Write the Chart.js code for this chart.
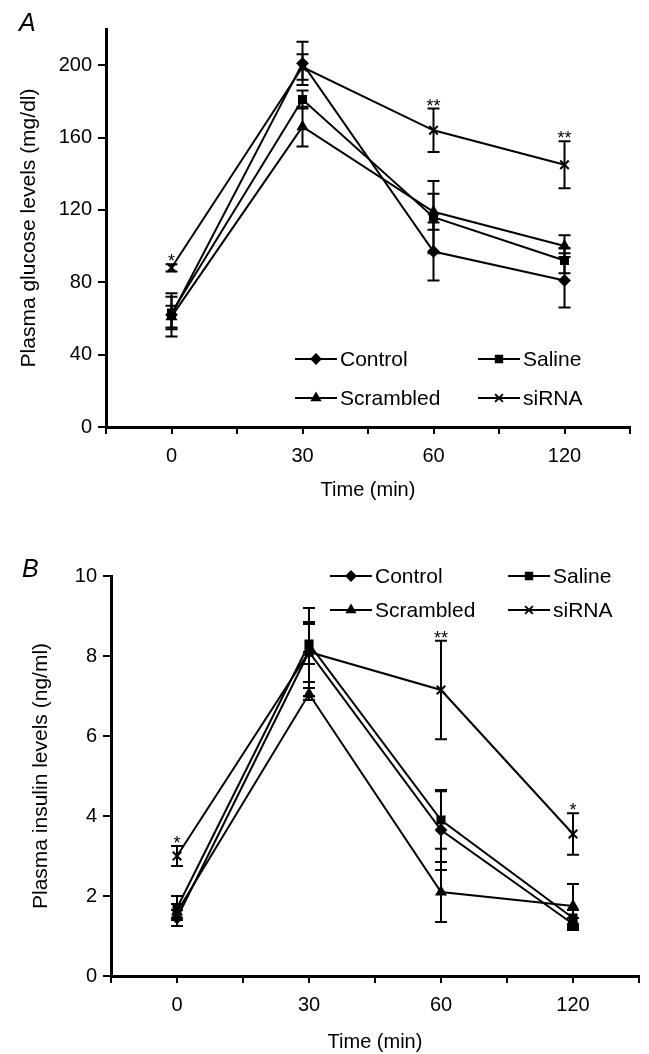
<!DOCTYPE html>
<html>
<head>
<meta charset="utf-8">
<script src="https://cdn.jsdelivr.net/npm/chart.js@4/dist/chart.umd.js"></script>
<style>
  body { margin: 0; background: #fff; }
  canvas { position: absolute; left: 0; }
</style>
</head>
<body>
<canvas id="glucose" width="649" height="502" style="top:0"></canvas>
<canvas id="insulin" width="649" height="554" style="top:500px"></canvas>
<script>
const timeLabels = ['0', '30', '60', '120'];
const seriesNames = ['Control', 'Saline', 'Scrambled', 'siRNA'];
const markers = ['rectRot', 'rect', 'triangle', 'crossRot'];

// panel A, plasma glucose (mg/dl)
const glucoseControl = [62, 201, 97, 81];
const glucoseSaline = [63, 181, 116, 92];
const glucoseScrambled = [61, 166, 119, 100];
const glucoseSiRNA = [88, 199, 164, 145];
const glucoseControlErr = [12, 12, 16, 15];
const glucoseSalineErr = [9, 5, 20, 7];
const glucoseScrambledErr = [6, 11, 10, 6];
const glucoseSiRNAErr = [2, 7, 12, 13];
const glucoseStars = ['*', '', '**', '**'];

// panel B, plasma insulin (ng/ml)
const insulinControl = [1.45, 8.1, 3.65, 1.3];
const insulinSaline = [1.7, 8.3, 3.9, 1.45];
const insulinScrambled = [1.6, 7.05, 2.1, 1.75];
const insulinSiRNA = [3.0, 8.1, 7.15, 3.55];
const insulinControlErr = [0.2, 0.75, 1.0, 0.15];
const insulinSalineErr = [0.3, 0.5, 0.72, 0.2];
const insulinScrambledErr = [0.2, 0.15, 0.75, 0.55];
const insulinSiRNAErr = [0.25, 1.1, 1.23, 0.52];
const insulinStars = ['*', '', '**', '*'];

const FONT = "'Liberation Sans', Arial, sans-serif";

const toPoints = vals => vals.map((v, i) => ({ x: i * 2, y: v }));

const makeDatasets = (values, errors) => values.map((vals, i) => ({
  label: seriesNames[i],
  data: toPoints(vals),
  errors: errors[i],
  borderColor: '#000',
  backgroundColor: '#000',
  borderWidth: 2,
  pointStyle: markers[i],
  pointRadius: markers[i] === 'crossRot' ? 6 : 5,
  pointBorderWidth: 2,
  tension: 0
}));

// error bars and significance stars
const errorBars = {
  id: 'errorBars',
  afterDatasetsDraw(chart, args, opts) {
    const ctx = chart.ctx, xs = chart.scales.x, ys = chart.scales.y;
    ctx.save();
    ctx.strokeStyle = '#000';
    ctx.lineWidth = 2;
    chart.data.datasets.forEach(ds => {
      ds.data.forEach((p, j) => {
        const e = ds.errors[j];
        const px = xs.getPixelForValue(p.x);
        const top = ys.getPixelForValue(p.y + e), bot = ys.getPixelForValue(p.y - e);
        ctx.beginPath();
        ctx.moveTo(px, top); ctx.lineTo(px, bot);
        ctx.moveTo(px - 6, top); ctx.lineTo(px + 6, top);
        ctx.moveTo(px - 6, bot); ctx.lineTo(px + 6, bot);
        ctx.stroke();
      });
    });
    const sig = chart.data.datasets[3];
    ctx.fillStyle = '#000';
    ctx.font = '18px ' + FONT;
    ctx.textAlign = 'center';
    ctx.textBaseline = 'alphabetic';
    opts.stars.forEach((s, j) => {
      if (!s) return;
      const p = sig.data[j];
      ctx.fillText(s, xs.getPixelForValue(p.x), ys.getPixelForValue(p.y + sig.errors[j]) + 3);
    });
    ctx.restore();
  }
};

// 2x2 legend and panel letter
const gridLegend = {
  id: 'gridLegend',
  afterDraw(chart, args, opts) {
    const ctx = chart.ctx;
    ctx.save();
    ctx.fillStyle = '#000';
    ctx.strokeStyle = '#000';
    ctx.font = 'italic 25px ' + FONT;
    ctx.textBaseline = 'alphabetic';
    ctx.fillText(opts.letter, opts.letterX, opts.letterY);
    ctx.font = '21px ' + FONT;
    ctx.textBaseline = 'middle';
    chart.data.datasets.forEach((ds, i) => {
      const x = opts.cols[i % 2], y = opts.rows[Math.floor(i / 2)];
      ctx.lineWidth = 2;
      ctx.beginPath();
      ctx.moveTo(x, y); ctx.lineTo(x + 42, y);
      ctx.stroke();
      Chart.helpers.drawPoint(ctx, {
        pointStyle: ds.pointStyle, radius: ds.pointStyle === 'crossRot' ? 5.5 : 4.5,
        borderWidth: 2, rotation: 0
      }, x + 21, y);
      ctx.fillText(ds.label, x + 45, y + 1);
    });
    ctx.restore();
  }
};

const makeChart = (id, datasets, cfg) => new Chart(document.getElementById(id), {
  type: 'line',
  data: { datasets },
  plugins: [errorBars, gridLegend],
  options: {
    responsive: false,
    animation: false,
    layout: { padding: { left: 0, right: cfg.right, top: cfg.top, bottom: 0 } },
    plugins: {
      legend: { display: false },
      tooltip: { enabled: false },
      errorBars: { stars: cfg.stars },
      gridLegend: cfg.legend
    },
    scales: {
      x: {
        type: 'linear',
        min: -1, max: 7,
        afterFit: s => { s.height = cfg.xHeight; },
        ticks: {
          stepSize: 1, autoSkip: false, padding: 10,
          color: '#000', font: { family: FONT, size: 20 },
          callback: v => (v >= 0 && v % 2 === 0) ? timeLabels[v / 2] : ''
        },
        grid: { drawOnChartArea: false, color: '#000', lineWidth: 2, tickLength: 7 },
        border: { color: '#000', width: 3 },
        title: {
          display: true, text: 'Time (min)', color: '#000',
          font: { family: FONT, size: 20 }, padding: { top: 0, bottom: 0 }
        }
      },
      y: {
        min: 0, max: cfg.yMax,
        afterFit: s => { s.width = cfg.yWidth; },
        afterBuildTicks: s => { s.ticks = s.ticks.filter(t => t.value % cfg.yStep === 0); },
        ticks: {
          stepSize: cfg.yStep, padding: 6,
          color: '#000', font: { family: FONT, size: 20 }
        },
        grid: { drawOnChartArea: false, color: '#000', lineWidth: 2, tickLength: 8 },
        border: { color: '#000', width: 3 },
        title: {
          display: true, text: cfg.yTitle, color: '#000',
          font: { family: FONT, size: 21 }, padding: { top: cfg.yTitlePad, bottom: 0 }
        }
      }
    }
  }
});

makeChart('glucose',
  makeDatasets([glucoseControl, glucoseSaline, glucoseScrambled, glucoseSiRNA],
    [glucoseControlErr, glucoseSalineErr, glucoseScrambledErr, glucoseSiRNAErr]),
  {
    right: 19, top: 29, xHeight: 75, yWidth: 106, yMax: 220, yStep: 40,
    yTitle: 'Plasma glucose levels (mg/dl)', yTitlePad: 17, stars: glucoseStars,
    legend: { letter: 'A', letterX: 19, letterY: 31, cols: [295, 478], rows: [359, 398] }
  });

makeChart('insulin',
  makeDatasets([insulinControl, insulinSaline, insulinScrambled, insulinSiRNA],
    [insulinControlErr, insulinSalineErr, insulinScrambledErr, insulinSiRNAErr]),
  {
    right: 6, top: 76, xHeight: 78, yWidth: 111, yMax: 10, yStep: 2,
    yTitle: 'Plasma insulin levels (ng/ml)', yTitlePad: 29, stars: insulinStars,
    legend: { letter: 'B', letterX: 22, letterY: 77, cols: [330, 508], rows: [76, 110] }
  });
</script>
</body>
</html>
